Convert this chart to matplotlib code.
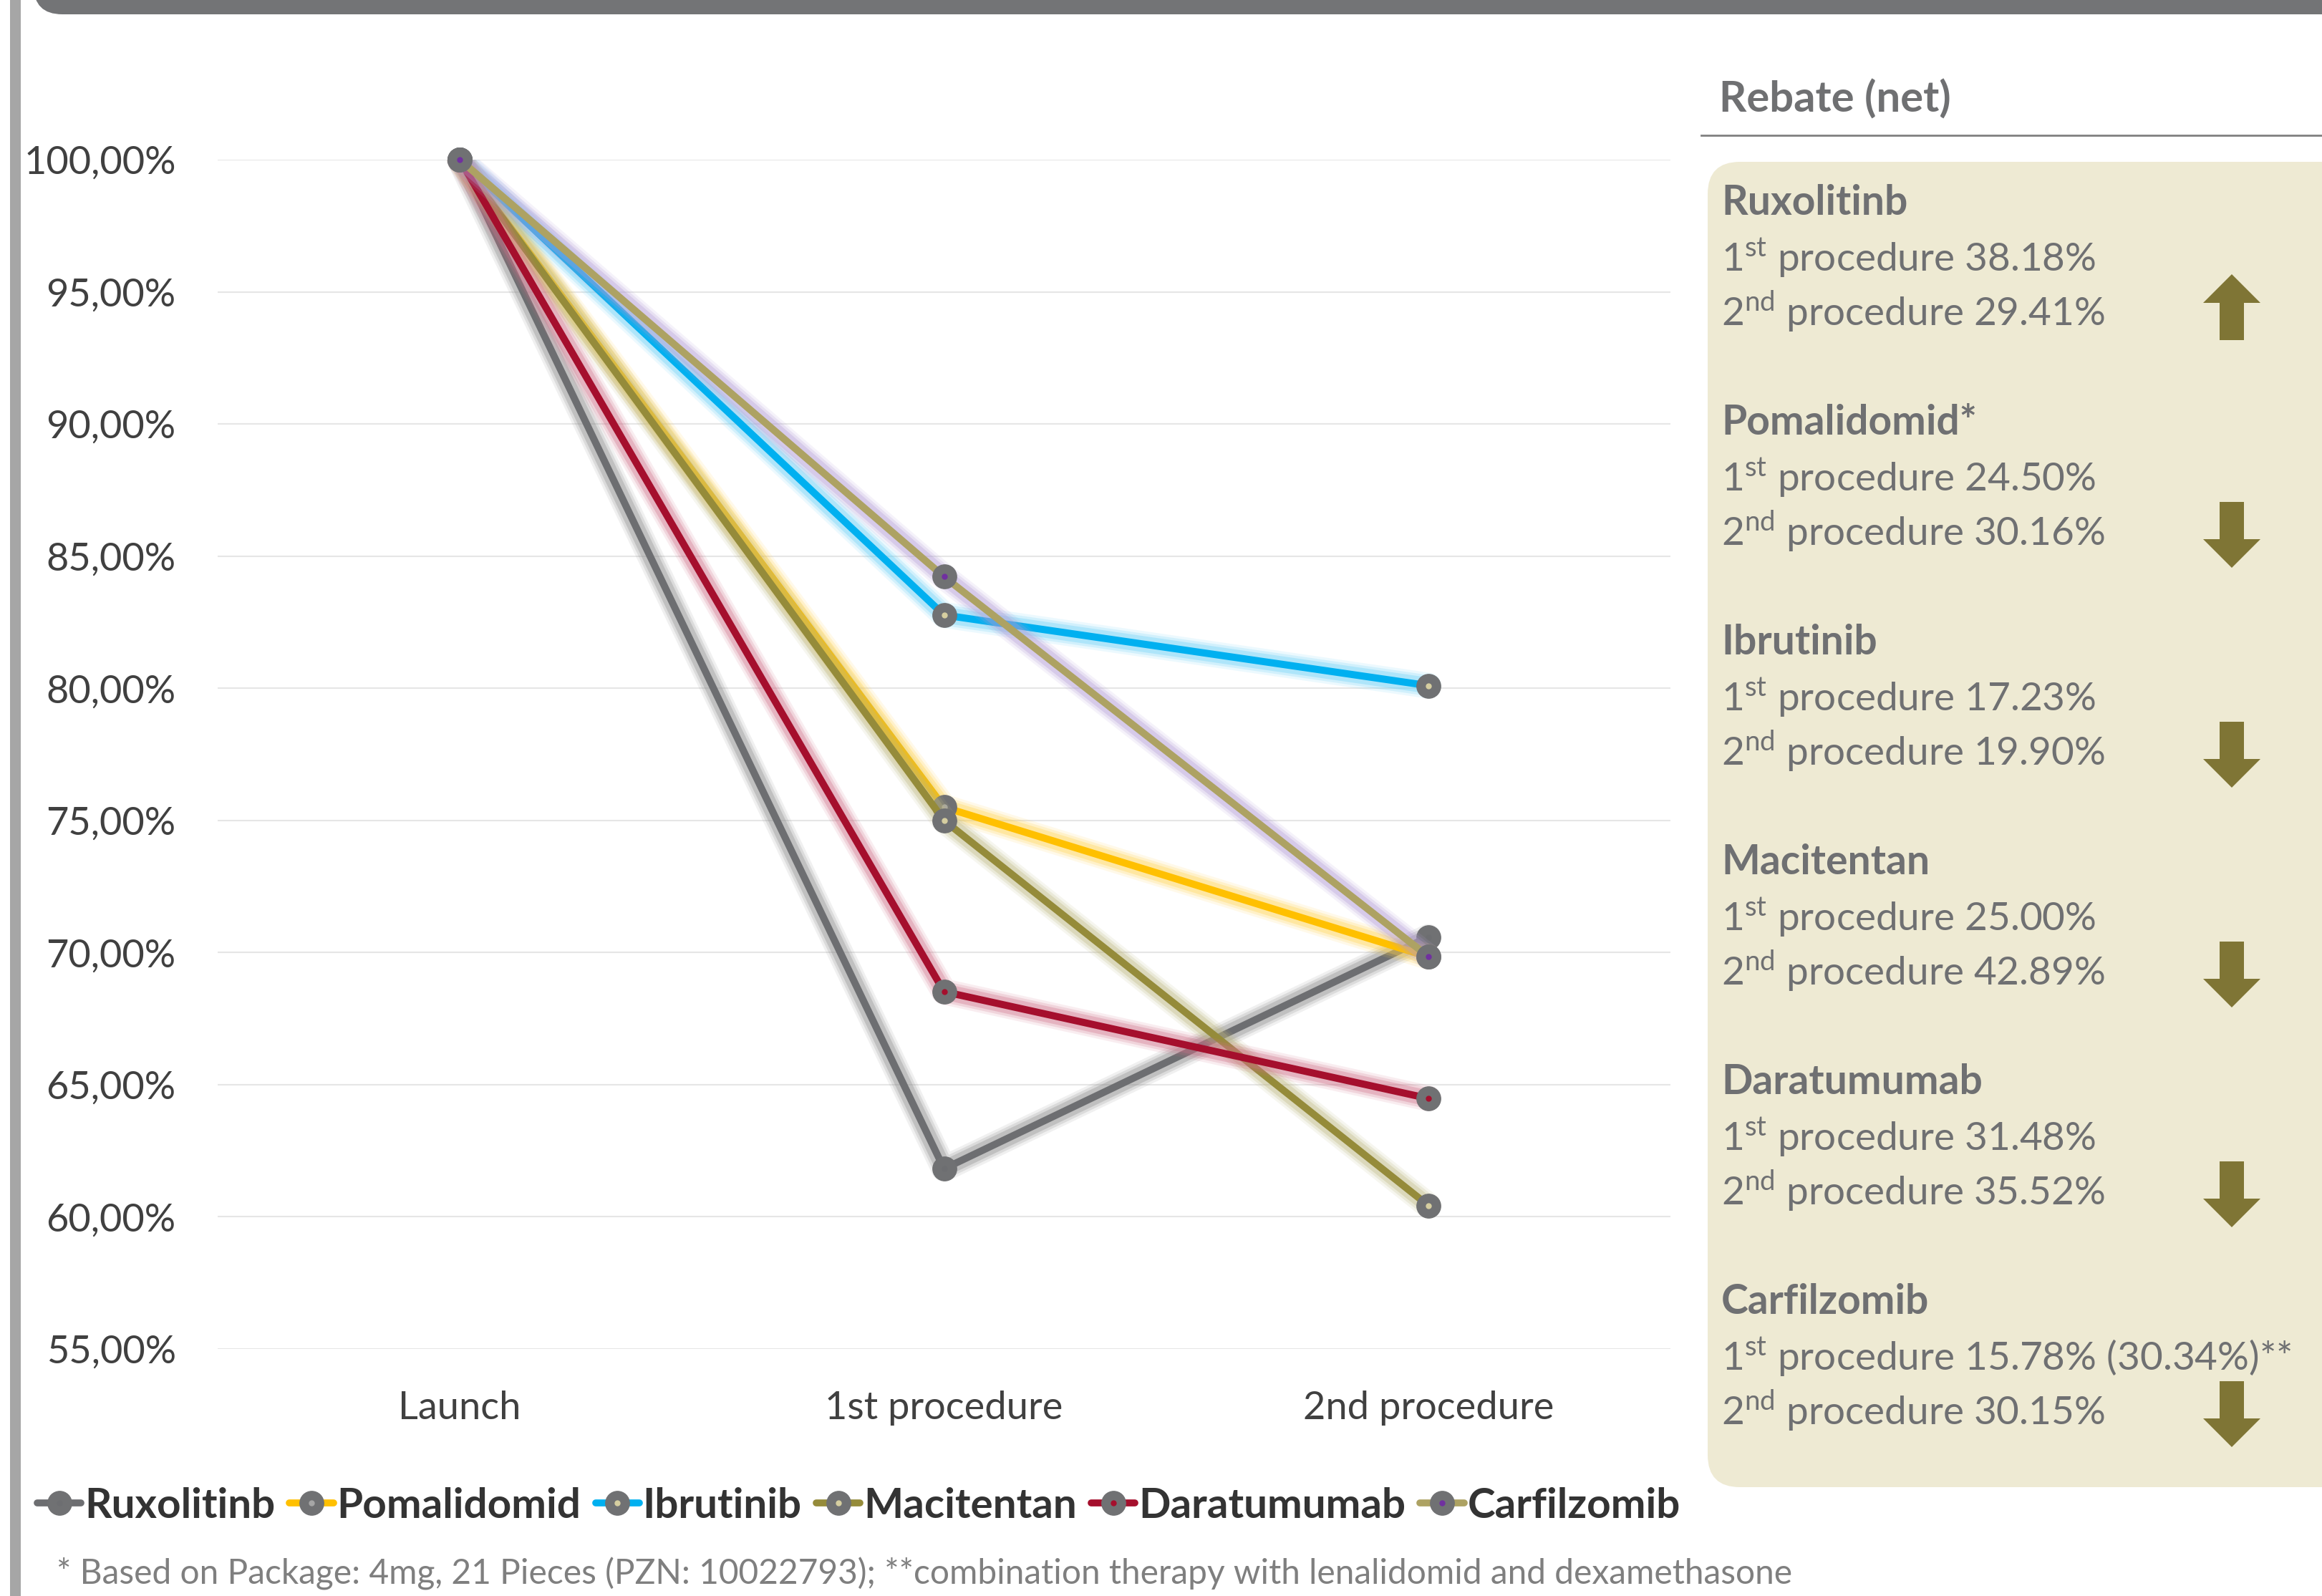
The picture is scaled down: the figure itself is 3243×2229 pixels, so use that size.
import matplotlib
matplotlib.use('Agg')
import matplotlib.pyplot as plt
from matplotlib.lines import Line2D
from matplotlib.patches import FancyBboxPatch, Rectangle, Polygon
from matplotlib.legend_handler import HandlerTuple

plt.rcParams['font.family'] = ['Lato', 'DejaVu Sans']
plt.rcParams['mathtext.fontset'] = 'custom'
plt.rcParams['mathtext.rm'] = 'Lato'
plt.rcParams['mathtext.it'] = 'Lato:italic'
plt.rcParams['mathtext.bf'] = 'Lato:bold'

# data
stages = ['Launch', '1st procedure', '2nd procedure']
drugs = ['Ruxolitinb', 'Pomalidomid', 'Ibrutinib', 'Macitentan', 'Daratumumab', 'Carfilzomib']
ruxolitinb = [100.0, 61.82, 70.59]
pomalidomid = [100.0, 75.50, 69.84]
ibrutinib = [100.0, 82.77, 80.10]
macitentan = [100.0, 75.00, 60.43]
daratumumab = [100.0, 68.52, 64.48]
carfilzomib = [100.0, 84.22, 69.85]
series = [ruxolitinb, pomalidomid, ibrutinib, macitentan, daratumumab, carfilzomib]
yticks = [55, 60, 65, 70, 75, 80, 85, 90, 95, 100]

rebate_names = ['Ruxolitinb', 'Pomalidomid*', 'Ibrutinib', 'Macitentan', 'Daratumumab', 'Carfilzomib']
rebate_first = ['38.18%', '24.50%', '17.23%', '25.00%', '31.48%', '15.78% (30.34%)**']
rebate_second = ['29.41%', '30.16%', '19.90%', '42.89%', '35.52%', '30.15%']
trend = ['up', 'down', 'down', 'down', 'down', 'down']

footnote = ('* Based on Package: 4mg, 21 Pieces (PZN: 10022793); '
            '**combination therapy with lenalidomid and dexamethasone')

# styles
line_colors = ['#6D6E71', '#FFC000', '#00B0F0', '#958B3A', '#A50F2D', '#ADA263']
glow_colors = ['#8A8A8A', '#FFD24D', '#66D0F7', '#BDB67F', '#CF7088', '#B39CD6']
dot_colors = ['#6D6E71', '#A6A6A6', '#D6CEA0', '#D6CEA0', '#A50F2D', '#7030A0']
marker_grey = '#707173'
text_grey = '#6F7072'
olive = '#7F7535'

W, H = 3243, 2229
fig = plt.figure(figsize=(W / 100, H / 100), dpi=100)

# background layer in pixel units (y down)
bg = fig.add_axes([0, 0, 1, 1], zorder=0)
bg.set_xlim(0, W)
bg.set_ylim(H, 0)
bg.axis('off')

bg.add_patch(Rectangle((14, 0), 15, H, color='#A6A6A6', lw=0))
bg.add_patch(FancyBboxPatch((47, -200), 3400, 220, boxstyle='round,pad=0,rounding_size=40',
                            fc='#737476', ec='none'))

# rebate panel
bg.text(2401, 157, 'Rebate (net)', fontsize=43, fontweight='bold', color=text_grey, va='baseline')
bg.plot([2376, W], [189, 189], color='#808080', lw=2)
bg.add_patch(FancyBboxPatch((2385, 226), 1200, 1851, boxstyle='round,pad=0,rounding_size=45',
                            fc='#EEEAD3', ec='none'))

step = 307
for i in range(len(rebate_names)):
    y0 = 300 + i * step
    bg.text(2404, y0, rebate_names[i], fontsize=41, fontweight='bold', color=text_grey, va='baseline')
    bg.text(2404, y0 + 78, r'1$^{\mathrm{st}}$ procedure ' + rebate_first[i],
            fontsize=39.5, color=text_grey, va='baseline')
    bg.text(2404, y0 + 155, r'2$^{\mathrm{nd}}$ procedure ' + rebate_second[i],
            fontsize=39.5, color=text_grey, va='baseline')
    cx = 3117
    if trend[i] == 'up':
        top = y0 + 83
        pts = [(cx, top), (cx + 40, top + 40), (cx + 17, top + 40), (cx + 17, top + 92),
               (cx - 17, top + 92), (cx - 17, top + 40), (cx - 40, top + 40)]
    else:
        top = y0 + 94
        pts = [(cx - 17, top), (cx + 17, top), (cx + 17, top + 52), (cx + 40, top + 52),
               (cx, top + 92), (cx - 40, top + 52), (cx - 17, top + 52)]
    bg.add_patch(Polygon(pts, closed=True, fc=olive, ec='none'))

bg.text(79, 2198, footnote, fontsize=34.5, color='#7F7F7F', va='center')

# line chart
ax = fig.add_axes([304 / W, 1 - 1884 / H, 2029 / W, 1661 / H], zorder=1)
ax.patch.set_alpha(0)
x = list(range(len(stages)))

for k, vals in enumerate(series):
    z = 3 + k * 3
    # soft glow under each line
    for lw, a in [(26, 0.12), (21, 0.2), (16, 0.32)]:
        ax.plot(x, vals, color=glow_colors[k], lw=lw, alpha=a, solid_capstyle='round',
                solid_joinstyle='round', zorder=z)
    ax.plot(x, vals, color=line_colors[k], lw=7.2, solid_joinstyle='round', zorder=z + 1)
    ax.plot(x, vals, ls='', marker='o', ms=24, mfc=marker_grey, mec=marker_grey,
            zorder=z + 2, clip_on=False)
    ax.plot(x, vals, ls='', marker='o', ms=5, mfc=dot_colors[k], mec=dot_colors[k],
            zorder=z + 2, clip_on=False)

ax.set_xlim(-0.5, 2.5)
ax.set_ylim(55, 100)
ax.set_xticks(x)
ax.set_xticklabels(stages)
ax.set_yticks(yticks)
ax.set_yticklabels([('%.2f%%' % v).replace('.', ',') for v in yticks])
ax.tick_params(length=0, labelsize=39, labelcolor='#404040')
ax.tick_params(axis='y', pad=42)
ax.tick_params(axis='x', pad=42)
for s in ax.spines.values():
    s.set_visible(False)
ax.yaxis.grid(True, color='#E6E6E6', lw=1.5, zorder=0)
ax.set_axisbelow(True)

handles = []
for k in range(len(drugs)):
    h1 = Line2D([], [], color=line_colors[k], lw=7, solid_capstyle='round')
    h2 = Line2D([], [], ls='', marker='o', ms=24, mfc=marker_grey, mec=marker_grey)
    h3 = Line2D([], [], ls='', marker='o', ms=5, mfc=dot_colors[k], mec=dot_colors[k])
    handles.append((h1, h2, h3))
fig.legend(handles, drugs, loc='center left', bbox_to_anchor=(52 / W, 1 - 2103 / H), ncol=6,
           frameon=False, handlelength=1.05, handletextpad=0.08, columnspacing=0.35,
           borderpad=0, borderaxespad=0, prop={'family': 'Lato', 'weight': 'bold', 'size': 42},
           labelcolor='#333333', handler_map={tuple: HandlerTuple(ndivide=1, pad=0)})

fig.savefig('out.png', dpi=100)
